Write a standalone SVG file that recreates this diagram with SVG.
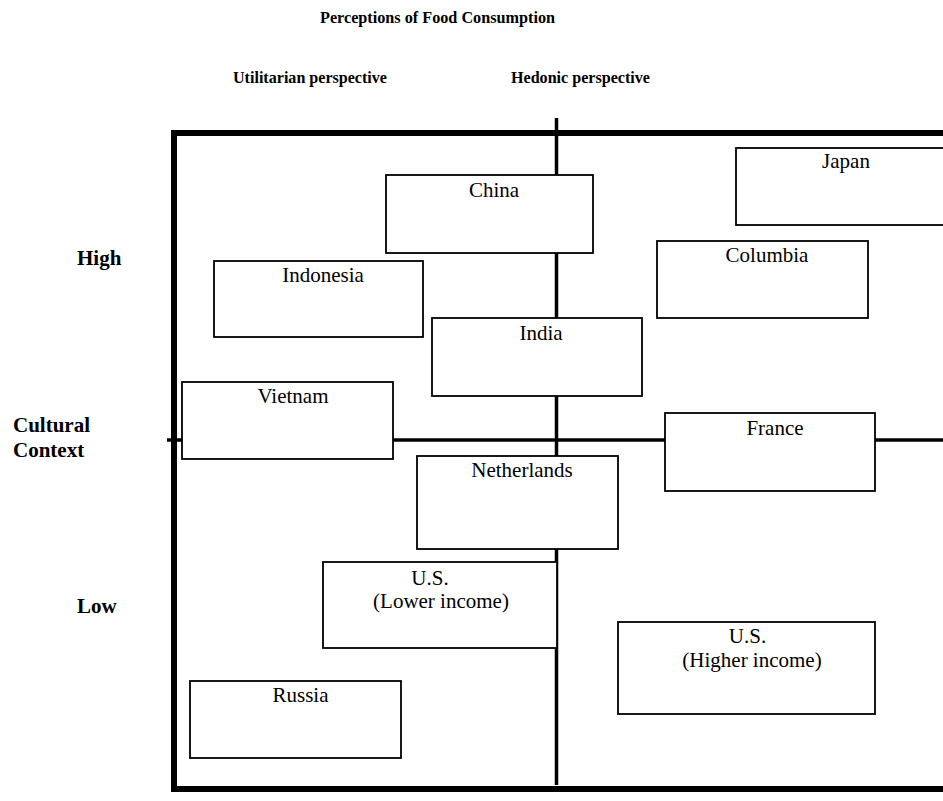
<svg xmlns="http://www.w3.org/2000/svg" width="943" height="801" viewBox="0 0 943 801">
<style>
.bg{fill:#fff}
.frame{fill:none;stroke:#000;stroke-width:6}
.axis{stroke:#000;stroke-width:3.5;fill:none}
.box{fill:#fff;stroke:#000;stroke-width:1.8}
.lbl{font-family:"Liberation Serif","Times New Roman",serif;font-size:21px;fill:#000;text-anchor:middle}
.hd{font-family:"Liberation Serif","Times New Roman",serif;font-weight:bold;fill:#000}
</style>
<rect class="bg" x="0" y="0" width="943" height="801"/>
<g id="headings">
<text class="hd" x="320" y="23" font-size="17.5" textLength="235" lengthAdjust="spacingAndGlyphs">Perceptions of Food Consumption</text>
<text class="hd" x="233" y="83" font-size="17.5" textLength="154" lengthAdjust="spacingAndGlyphs">Utilitarian perspective</text>
<text class="hd" x="511" y="83" font-size="17.5" textLength="139" lengthAdjust="spacingAndGlyphs">Hedonic perspective</text>
<text class="hd" x="77" y="265" font-size="21">High</text>
<text class="hd" x="13" y="432" font-size="21">Cultural</text>
<text class="hd" x="13" y="457" font-size="21">Context</text>
<text class="hd" x="77" y="613" font-size="21">Low</text>
</g>
<g id="connectors">
<rect class="frame" x="174" y="133" width="800" height="656"/>
<line class="axis" x1="167" y1="440" x2="943" y2="440"/>
<line class="axis" x1="556.5" y1="118" x2="556.5" y2="785" stroke-width="3"/>
</g>
<g id="china"><rect class="box" x="386" y="175" width="207" height="78"/><text class="lbl" x="494" y="197">China</text></g>
<g id="japan"><rect class="box" x="736" y="148" width="214" height="77"/><text class="lbl" x="846" y="168">Japan</text></g>
<g id="indonesia"><rect class="box" x="214" y="261" width="209" height="76"/><text class="lbl" x="323" y="282">Indonesia</text></g>
<g id="columbia"><rect class="box" x="657" y="241" width="211" height="77"/><text class="lbl" x="767" y="262">Columbia</text></g>
<g id="india"><rect class="box" x="432" y="318" width="210" height="78"/><text class="lbl" x="541" y="340">India</text></g>
<g id="vietnam"><rect class="box" x="182" y="382" width="211" height="77"/><text class="lbl" x="293" y="403">Vietnam</text></g>
<g id="france"><rect class="box" x="665" y="413" width="210" height="78"/><text class="lbl" x="775" y="435">France</text></g>
<g id="netherlands"><rect class="box" x="417" y="456" width="201" height="93"/><text class="lbl" x="522" y="477">Netherlands</text></g>
<g id="us-lower"><rect class="box" x="323" y="562" width="234" height="86"/><text class="lbl" x="430" y="585">U.S.</text><text class="lbl" x="441" y="608">(Lower income)</text></g>
<g id="us-higher"><rect class="box" x="618" y="622" width="257" height="92"/><text class="lbl" x="747.5" y="643">U.S.</text><text class="lbl" x="752" y="667">(Higher income)</text></g>
<g id="russia"><rect class="box" x="190" y="681" width="211" height="77"/><text class="lbl" x="300.5" y="702">Russia</text></g>
</svg>
